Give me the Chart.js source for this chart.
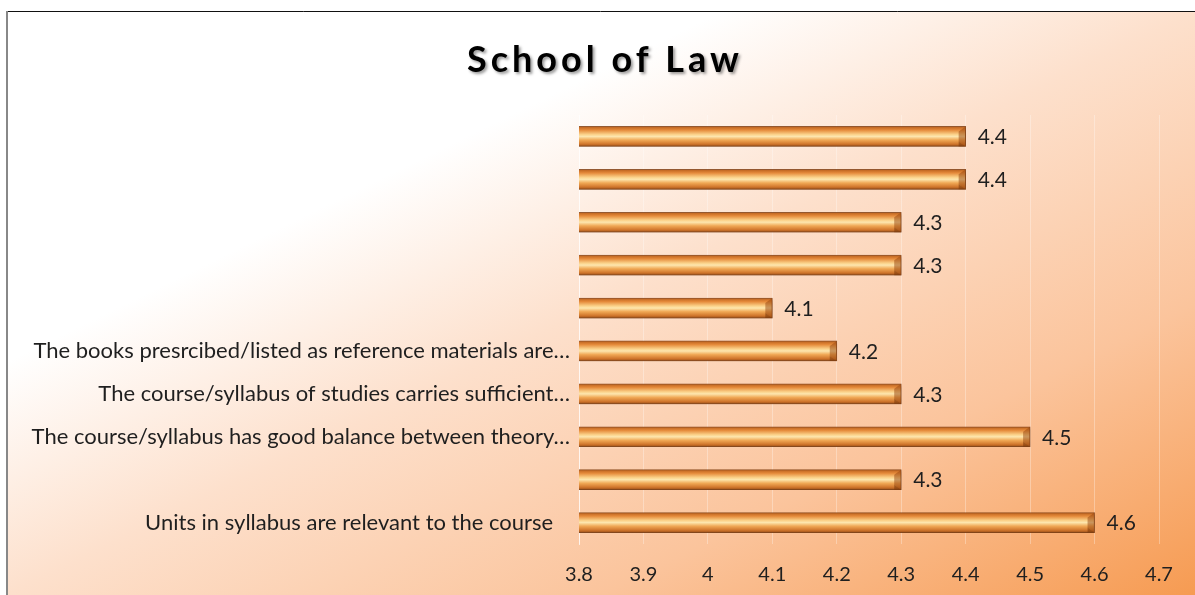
<!DOCTYPE html>
<html lang="en">
<head>
  <meta charset="UTF-8">
  <title>School of Law</title>
  <script src="https://cdn.jsdelivr.net/npm/chart.js"></script>
  <style>
    html, body { margin: 0; padding: 0; background: #fff; }
    #wrap { width: 1195px; height: 595px; }
  </style>
</head>
<body>
  <div id="wrap"><canvas id="grafico" width="1195" height="595"></canvas></div>

  <script>
    // categories top to bottom (blank ones have no visible label in the original)
    const categorias = [
      '',
      '',
      '',
      '',
      '',
      'The books presrcibed/listed as reference materials are…',
      'The course/syllabus of studies carries sufficient…',
      'The course/syllabus has good balance between theory…',
      '',
      'Units in syllabus are relevant to the course   '
    ];
    const notas = [4.4, 4.4, 4.3, 4.3, 4.1, 4.2, 4.3, 4.5, 4.3, 4.6];
    const eixoMin = 3.8;
    const eixoMax = 4.7;
    const passo = 0.1;
    const titulo = 'School of Law';

    const fonte = 'Lato, "Open Sans", sans-serif';

    // fundo em degradê + moldura
    const fundo = {
      id: 'fundo',
      beforeDraw(chart) {
        const c = chart.ctx;
        const W = chart.width, H = chart.height;
        c.save();
        c.fillStyle = '#fff';
        c.fillRect(0, 0, W, H);
        const x0 = 7, y0 = 12, w = W - x0, h = H - y0;
        const k = 2 / (1 / (w * w) + 1 / (h * h));
        const g = c.createLinearGradient(x0, y0, x0 + k / w, y0 + k / h);
        g.addColorStop(0, '#ffffff');
        g.addColorStop(0.3, '#ffffff');
        g.addColorStop(0.5, '#fde0cc');
        g.addColorStop(0.75, '#fbc49c');
        g.addColorStop(1, '#f69b52');
        c.fillStyle = g;
        c.fillRect(x0, y0, w, h);
        c.strokeStyle = '#111';
        c.lineWidth = 1;
        c.beginPath();
        c.moveTo(6, 11.5);
        c.lineTo(W, 11.5);
        c.stroke();
        c.strokeStyle = '#888';
        c.lineWidth = 2;
        c.beginPath();
        c.moveTo(7, 11);
        c.lineTo(7, H);
        c.stroke();
        c.restore();
      },
      afterDraw(chart) {
        // título com espaçamento e sombra
        const c = chart.ctx;
        c.save();
        c.font = 'bold 36px ' + fonte;
        if ('letterSpacing' in c) c.letterSpacing = '4px';
        c.textAlign = 'center';
        c.textBaseline = 'alphabetic';
        c.shadowColor = 'rgba(0,0,0,0.4)';
        c.shadowBlur = 3;
        c.shadowOffsetX = 2;
        c.shadowOffsetY = 2;
        c.fillStyle = '#000';
        c.fillText(titulo, 605, 72);
        c.restore();
      }
    };

    // sombra nas barras
    const sombra = {
      id: 'sombra',
      beforeDatasetsDraw(chart) {
        const c = chart.ctx;
        c.save();
        c.shadowColor = 'rgba(90,40,0,0.35)';
        c.shadowBlur = 3;
        c.shadowOffsetX = 1;
        c.shadowOffsetY = 2;
      },
      afterDatasetsDraw(chart) {
        chart.ctx.restore();
      }
    };

    // chanfro na ponta + rótulos de valor
    const rotulos = {
      id: 'rotulos',
      afterDatasetsDraw(chart) {
        const c = chart.ctx;
        const meta = chart.getDatasetMeta(0);
        c.save();
        meta.data.forEach((bar, i) => {
          const h = bar.height;
          const top = bar.y - h / 2, bot = bar.y + h / 2;
          c.fillStyle = 'rgba(150,70,15,0.5)';
          c.beginPath();
          c.moveTo(bar.x - 7, top + 5);
          c.lineTo(bar.x, top);
          c.lineTo(bar.x, bot);
          c.lineTo(bar.x - 7, bot - 5);
          c.closePath();
          c.fill();
          c.fillStyle = 'rgba(120,55,10,0.55)';
          c.beginPath();
          c.moveTo(bar.x - 7, bot - 5);
          c.lineTo(bar.x, bot);
          c.lineTo(bar.x - 7, bot);
          c.closePath();
          c.fill();

          c.fillStyle = '#1f1f1f';
          c.font = '21px ' + fonte;
          c.textAlign = 'left';
          c.textBaseline = 'middle';
          c.fillText(String(notas[i]), bar.x + 12, bar.y + 1);
        });
        c.restore();
      }
    };

    function corBarra(ctx) {
      const chart = ctx.chart;
      if (!chart.chartArea || !chart.scales.y) return '#e8883a';
      const y = chart.scales.y.getPixelForValue(ctx.dataIndex);
      const g = chart.ctx.createLinearGradient(0, y - 10, 0, y + 10);
      g.addColorStop(0, '#b95f1c');
      g.addColorStop(0.18, '#e58a3a');
      g.addColorStop(0.4, '#fbd28a');
      g.addColorStop(0.5, '#fde6ae');
      g.addColorStop(0.68, '#f0a855');
      g.addColorStop(0.88, '#d0762c');
      g.addColorStop(1, '#9c5018');
      return g;
    }

    new Chart(document.getElementById('grafico'), {
      type: 'bar',
      data: {
        labels: categorias,
        datasets: [{
          data: notas,
          backgroundColor: corBarra,
          borderColor: 'rgba(130,65,20,0.85)',
          borderWidth: 1,
          borderSkipped: 'left',
          barThickness: 20
        }]
      },
      plugins: [fundo, sombra, rotulos],
      options: {
        indexAxis: 'y',
        responsive: false,
        animation: false,
        layout: { padding: { left: 0, right: 36, top: 115, bottom: 10 } },
        plugins: {
          legend: { display: false },
          tooltip: { enabled: false },
          title: { display: false }
        },
        scales: {
          x: {
            min: eixoMin,
            max: eixoMax,
            afterFit: s => { s.height = 41; },
            ticks: {
              stepSize: passo,
              padding: 19,
              color: '#1f1f1f',
              font: { family: fonte, size: 20 },
              callback: v => String(Number(v.toFixed(1)))
            },
            grid: { color: 'rgba(255,255,255,0.3)', drawTicks: false },
            border: { display: false }
          },
          y: {
            afterFit: s => { s.width = 579; },
            ticks: {
              padding: 9,
              color: '#1f1f1f',
              font: { family: fonte, size: 22 }
            },
            grid: { display: false, drawTicks: false },
            border: { display: true, color: 'rgba(255,255,255,0.7)' }
          }
        }
      }
    });
  </script>
</body>
</html>
